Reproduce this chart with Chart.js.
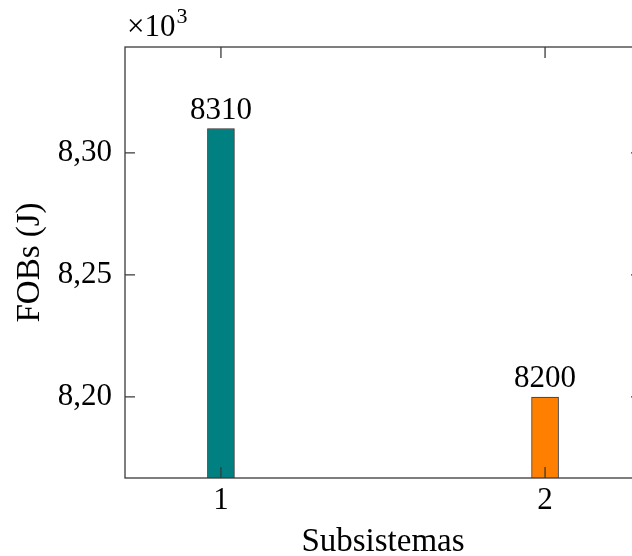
<!DOCTYPE html>
<html>
<head>
<meta charset="utf-8">
<script src="https://cdn.jsdelivr.net/npm/chart.js@4/dist/chart.umd.min.js"></script>
<style>
  html, body { margin: 0; padding: 0; background: #fff; overflow: hidden; }
  #wrap { width: 660px; height: 556px; }
</style>
</head>
<body>
<div id="wrap"><canvas id="chartFobs" width="660" height="556"></canvas></div>
<script>
// data
const subsistemas = [1, 2];
const fobs = [8310, 8200];
const yTicks = [8200, 8250, 8300];
const barColors = ['#008080', '#ff8000'];

const FONT = 'Liberation Serif';

// frame, inward ticks, value labels and the x10^3 note (pgfplots look)
const pgfLook = {
    id: 'pgfLook',
    afterDraw(chart) {
        const ctx = chart.ctx;
        const a = chart.chartArea;
        const xs = chart.scales.x, ys = chart.scales.y;
        ctx.save();
        ctx.strokeStyle = '#3a3a3a';
        ctx.lineWidth = 1.3;
        ctx.strokeRect(a.left, a.top, a.right - a.left, a.bottom - a.top);
        ctx.beginPath();
        yTicks.forEach(function(v) {
            const y = ys.getPixelForValue(v);
            ctx.moveTo(a.left, y); ctx.lineTo(a.left + 10, y);
            ctx.moveTo(a.right, y); ctx.lineTo(a.right - 10, y);
        });
        subsistemas.forEach(function(v) {
            const x = xs.getPixelForValue(v);
            ctx.moveTo(x, a.top); ctx.lineTo(x, a.top + 11);
            ctx.moveTo(x, a.bottom); ctx.lineTo(x, a.bottom - 11);
        });
        ctx.stroke();

        // values over the bars
        ctx.fillStyle = '#000';
        ctx.textAlign = 'center';
        ctx.textBaseline = 'alphabetic';
        ctx.font = '31px "' + FONT + '"';
        chart.getDatasetMeta(0).data.forEach(function(bar, i) {
            ctx.fillText(String(fobs[i]), bar.x, bar.y - 10);
        });

        // x10^3
        ctx.textAlign = 'left';
        ctx.font = '31px "' + FONT + '"';
        ctx.fillText('\u00d710', a.left + 2, 36);
        const base = ctx.measureText('\u00d710').width;
        ctx.font = '22px "' + FONT + '"';
        ctx.fillText('3', a.left + 2 + base + 1, 23);
        ctx.restore();
    }
};

new Chart(document.getElementById('chartFobs'), {
    type: 'bar',
    data: {
        datasets: [{
            data: subsistemas.map(function(s, i) { return { x: s, y: fobs[i] }; }),
            backgroundColor: barColors,
            borderColor: '#333',
            borderWidth: 1,
            barThickness: 27,
            base: 8100
        }]
    },
    options: {
        responsive: false,
        animation: false,
        layout: { padding: { top: 47, right: 19, left: 0, bottom: 0 } },
        plugins: { legend: { display: false }, tooltip: { enabled: false } },
        scales: {
            x: {
                type: 'linear',
                min: 0.704,
                max: 2.296,
                offset: false,
                grid: { display: false, drawTicks: false },
                border: { display: false },
                afterBuildTicks: function(s) { s.ticks = subsistemas.map(function(v) { return { value: v }; }); },
                afterFit: function(s) { s.height = 78; },
                ticks: {
                    padding: 4,
                    color: '#000',
                    font: { family: FONT, size: 31 },
                    callback: function(v) { return String(v); }
                },
                title: {
                    display: true,
                    text: 'Subsistemas',
                    color: '#000',
                    font: { family: FONT, size: 33 },
                    padding: { top: 0, bottom: -6 }
                }
            },
            y: {
                min: 8166.8,
                max: 8343.4,
                grid: { display: false, drawTicks: false },
                border: { display: false },
                afterBuildTicks: function(s) { s.ticks = yTicks.map(function(v) { return { value: v }; }); },
                afterFit: function(s) { s.width = 125; },
                ticks: {
                    padding: 13,
                    color: '#000',
                    font: { family: FONT, size: 31 },
                    callback: function(v) { return (v / 1000).toFixed(2).replace('.', ','); }
                },
                title: {
                    display: true,
                    text: 'FOBs (J)',
                    color: '#000',
                    font: { family: FONT, size: 33 },
                    padding: { top: 11, bottom: 0 }
                }
            }
        }
    },
    plugins: [pgfLook]
});
</script>
</body>
</html>
